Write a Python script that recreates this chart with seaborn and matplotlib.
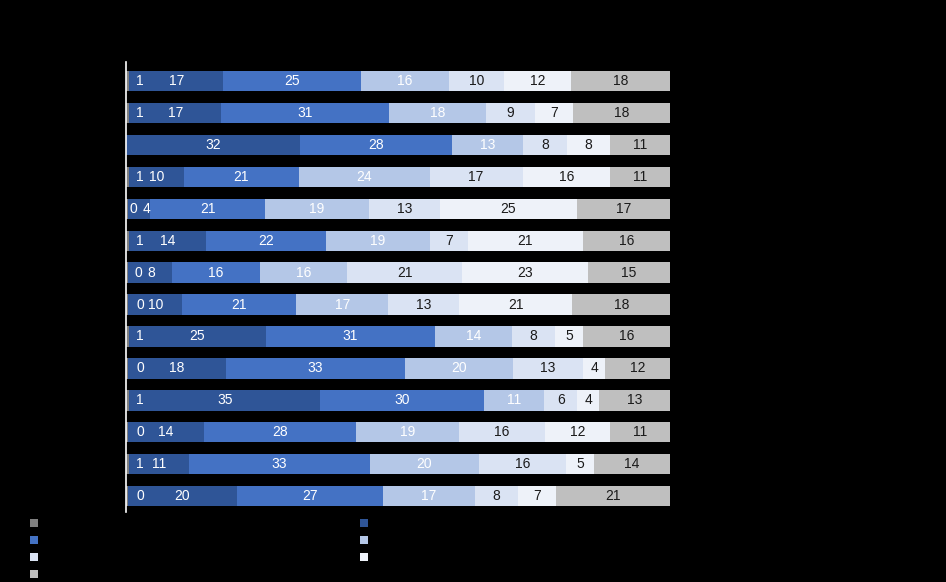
import numpy as np
import pandas as pd
import matplotlib
matplotlib.use("Agg")
import matplotlib.pyplot as plt
from matplotlib.lines import Line2D
import seaborn as sns

# ---- data ----
categories = [f"Item {i}" for i in range(1, 15)]
seg_gray = [0.6, 0.6, 0.0, 0.6, 0.4, 0.6, 0.4, 0.4, 0.6, 0.4, 0.6, 0.4, 0.6, 0.4]
seg_darkblue = [17, 17, 32, 10, 4, 14, 8, 10, 25, 18, 35, 14, 11, 20]
seg_blue = [25, 31, 28, 21, 21, 22, 16, 21, 31, 33, 30, 28, 33, 27]
seg_lightblue = [16, 18, 13, 24, 19, 19, 16, 17, 14, 20, 11, 19, 20, 17]
seg_lighter = [10, 9, 8, 17, 13, 7, 21, 13, 8, 13, 6, 16, 16, 8]
seg_lightest = [12, 7, 8, 16, 25, 21, 23, 21, 5, 4, 4, 12, 5, 7]
seg_lightgray = [18, 18, 11, 11, 17, 16, 15, 18, 16, 12, 13, 11, 14, 21]
show_gray_label = [True, True, False, True, True, True, True, True, True, True, True, True, True, True]

series = [seg_gray, seg_darkblue, seg_blue, seg_lightblue, seg_lighter, seg_lightest, seg_lightgray]
colors = ["#808080", "#2F5597", "#4472C4", "#B4C7E7", "#DAE3F3", "#EEF2F9", "#BFBFBF"]
text_colors = ["white", "white", "white", "white", "#1a1a1a", "#1a1a1a", "#1a1a1a"]

vals = np.array(series, dtype=float)          # (7, 14)
totals = vals.sum(axis=0)
pct = vals / totals * 100.0
cum = np.cumsum(pct, axis=0)

fig = plt.figure(figsize=(9.46, 5.82), dpi=100, facecolor="black")
W, H = 946, 582
ax = fig.add_axes([126 / W, 1 - 512 / H, (670 - 126) / W, (512 - 62) / H])
ax.set_facecolor("black")

# draw cumulative bars, widest first, so each segment shows
for k in range(len(series) - 1, -1, -1):
    df = pd.DataFrame({"cat": categories, "val": cum[k]})
    sns.barplot(data=df, x="val", y="cat", orient="h", color=colors[k],
                saturation=1, width=0.64, ax=ax, linewidth=0)

ax.set_xlim(0, 100)
ax.set_ylim(13.5, -0.6)

px = 544 / 100.0  # pixels per percent
for i in range(len(categories)):
    starts = np.concatenate([[0], cum[:, i]])[:-1]
    centers = starts + pct[:, i] / 2
    xs = centers.copy()
    # first (tiny) segment label is pushed to the right, as in the original
    xs[0] = starts[0] + 2.6
    if abs(xs[1] - xs[0]) * px < 14:
        m = (xs[0] + xs[1]) / 2
        xs[0] = m - 6.5 / px
        xs[1] = m + 6.5 / px
    for k in range(len(series)):
        if k == 0 and not show_gray_label[i]:
            continue
        ax.text(xs[k], i, f"{vals[k, i]:.0f}", ha="center", va="center",
                fontsize=10, color=text_colors[k], family="Liberation Sans")

ax.set_xlabel("")
ax.set_ylabel("")
ax.set_xticks([])
ax.tick_params(axis="y", length=0, labelcolor="black")
for s in ["top", "right", "bottom"]:
    ax.spines[s].set_visible(False)
ax.spines["left"].set_color("white")
ax.spines["left"].set_linewidth(1.2)

handles = [Line2D([], [], marker="s", linestyle="none", markersize=5.8,
                  markerfacecolor=c, markeredgewidth=0) for c in colors]
# row-major order in two columns
order = [0, 2, 4, 6, 1, 3, 5]
leg = fig.legend([handles[j] for j in order], [""] * 7, ncol=2, loc="upper left",
                 bbox_to_anchor=(17 / W, 1 - 507 / H), frameon=False,
                 fontsize=10, handlelength=1.0, handletextpad=0.0,
                 columnspacing=22.8, labelspacing=0.21, borderpad=0.2)

fig.savefig("out.png", dpi=100, facecolor="black")
